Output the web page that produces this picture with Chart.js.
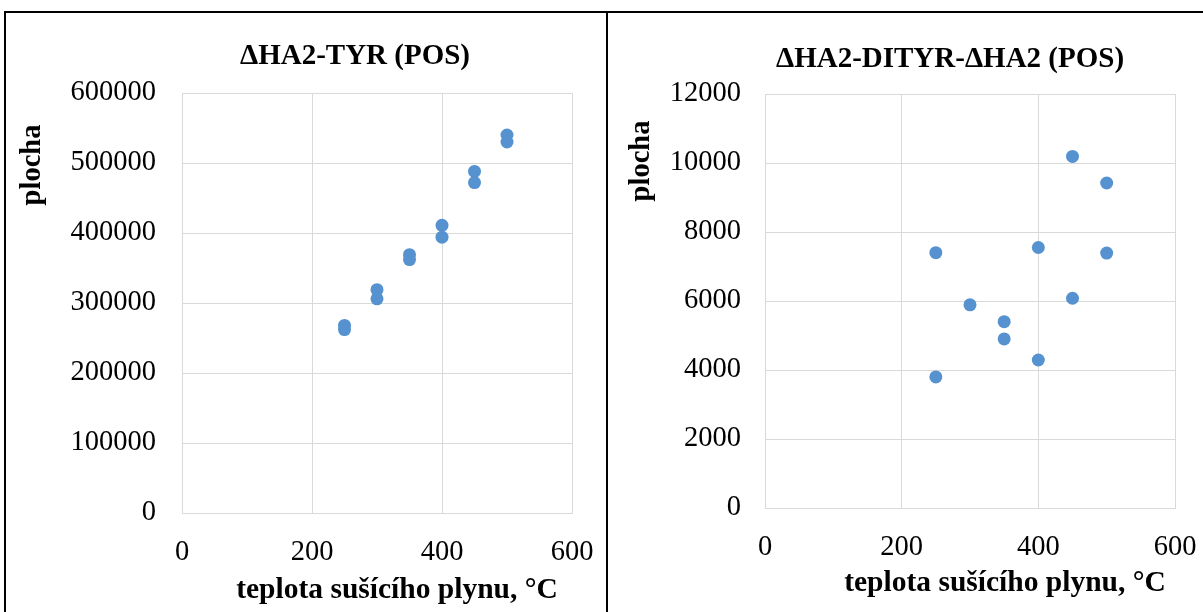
<!DOCTYPE html>
<html>
<head>
<meta charset="utf-8">
<script src="https://cdn.jsdelivr.net/npm/chart.js@4.4.1/dist/chart.umd.min.js"></script>
<style>
  html, body { margin: 0; padding: 0; background: #fff; width: 1203px; height: 612px; overflow: hidden; }
  .panel { position: absolute; }
  .frame { position: absolute; border: 2px solid #000; box-sizing: border-box; }
  #frameA { left: 4px; top: 11px; width: 604px; height: 700px; }
  #frameB { left: 606px; top: 11px; width: 700px; height: 700px; }
  #boxA { left: 0; top: 0; width: 606px; height: 612px; }
  #boxB { left: 608px; top: 0; width: 595px; height: 612px; }
</style>
</head>
<body>
<div class="frame" id="frameA"></div>
<div class="frame" id="frameB"></div>
<div class="panel" id="boxA"><canvas id="chartA"></canvas></div>
<div class="panel" id="boxB"><canvas id="chartB"></canvas></div>
<script>
// Drying-gas temperature (°C) and peak area for ΔHA2-TYR
const tempTyr = [250, 250, 300, 300, 350, 350, 400, 400, 450, 450, 500, 500];
const areaTyr = [268000, 262000, 319000, 306000, 369000, 362000, 411000, 394000, 488000, 472000, 540000, 530000];

// Drying-gas temperature (°C) and peak area for ΔHA2-DITYR-ΔHA2
const tempDityr = [250, 250, 300, 350, 350, 400, 400, 450, 450, 500, 500];
const areaDityr = [7400, 3800, 5890, 5400, 4900, 7550, 4290, 10190, 6080, 9420, 7390];

// Axis tick values
const xTicks = [0, 200, 400, 600];
const yTicksTyr = [0, 100000, 200000, 300000, 400000, 500000, 600000];
const yTicksDityr = [0, 2000, 4000, 6000, 8000, 10000, 12000];

const titleTyr = 'ΔHA2-TYR (POS)';
const titleDityr = 'ΔHA2-DITYR-ΔHA2 (POS)';
const xTitle = 'teplota sušícího plynu, °C';
const yTitle = 'plocha';

const SERIF = '"Liberation Serif", "Times New Roman", serif';
const DOT = '#5592cf';
const GRID = '#d9d9d9';

function toPoints(xs, ys) {
  return xs.map((x, i) => ({ x: x, y: ys[i] }));
}

// Draws the chart title and both axis titles at fixed spots on the canvas
function textPlugin(cfg) {
  return {
    id: 'panelText',
    afterDraw(chart) {
      const ctx = chart.ctx;
      ctx.save();
      ctx.fillStyle = '#000';
      ctx.textAlign = 'center';
      ctx.textBaseline = 'middle';
      ctx.font = 'bold 29px ' + SERIF;
      ctx.fillText(cfg.title, cfg.titleX, cfg.titleY);
      ctx.font = 'bold 29.5px ' + SERIF;
      ctx.fillText(xTitle, cfg.xTitleX, cfg.xTitleY);
      ctx.font = 'bold 28.5px ' + SERIF;
      ctx.translate(cfg.yTitleX, cfg.yTitleY);
      ctx.rotate(-Math.PI / 2);
      ctx.fillText(yTitle, 0, 0);
      ctx.restore();
    }
  };
}

function makeChart(id, xs, ys, yTicks, geo, text) {
  const yMax = yTicks[yTicks.length - 1];
  return new Chart(document.getElementById(id), {
    type: 'scatter',
    data: {
      datasets: [{
        data: toPoints(xs, ys),
        backgroundColor: DOT,
        borderColor: DOT,
        borderWidth: 0,
        pointRadius: 6.5,
        pointHoverRadius: 6.5
      }]
    },
    options: {
      responsive: true,
      maintainAspectRatio: false,
      animation: false,
      events: [],
      layout: { padding: { left: 0, right: geo.padRight, top: geo.padTop, bottom: 0 } },
      plugins: { legend: { display: false }, tooltip: { enabled: false }, title: { display: false } },
      scales: {
        x: {
          type: 'linear',
          min: 0, max: 600,
          afterBuildTicks(scale) { scale.ticks = xTicks.map(v => ({ value: v })); },
          afterFit(scale) {
            scale.height = geo.xHeight;
            scale.paddingLeft = 0;
            scale.paddingRight = 0;
          },
          grid: { color: GRID, lineWidth: 1, drawTicks: false },
          border: { color: GRID, width: 1 },
          ticks: { color: '#000', font: { family: SERIF, size: 28.5 }, padding: geo.xPad, maxRotation: 0 }
        },
        y: {
          type: 'linear',
          min: 0, max: yMax,
          afterBuildTicks(scale) { scale.ticks = yTicks.map(v => ({ value: v })); },
          afterFit(scale) {
            scale.width = geo.yWidth;
            scale.paddingTop = 0;
            scale.paddingBottom = 0;
          },
          grid: { color: GRID, lineWidth: 1, drawTicks: false },
          border: { color: GRID, width: 1 },
          ticks: { color: '#000', font: { family: SERIF, size: 28.5 }, padding: geo.yPad,
                   callback: v => String(v) }
        }
      }
    },
    plugins: [textPlugin(text)]
  });
}

makeChart('chartA', tempTyr, areaTyr, yTicksTyr,
  { padRight: 34, padTop: 93, xHeight: 99, yWidth: 182, xPad: 22, yPad: 26 },
  { title: titleTyr, titleX: 355, titleY: 57, xTitleX: 397, xTitleY: 590, yTitleX: 33, yTitleY: 165 });

makeChart('chartB', tempDityr, areaDityr, yTicksDityr,
  { padRight: 28, padTop: 94, xHeight: 104, yWidth: 157, xPad: 22, yPad: 24 },
  { title: titleDityr, titleX: 342, titleY: 60, xTitleX: 397, xTitleY: 583, yTitleX: 34, yTitleY: 161 });
</script>
</body>
</html>
